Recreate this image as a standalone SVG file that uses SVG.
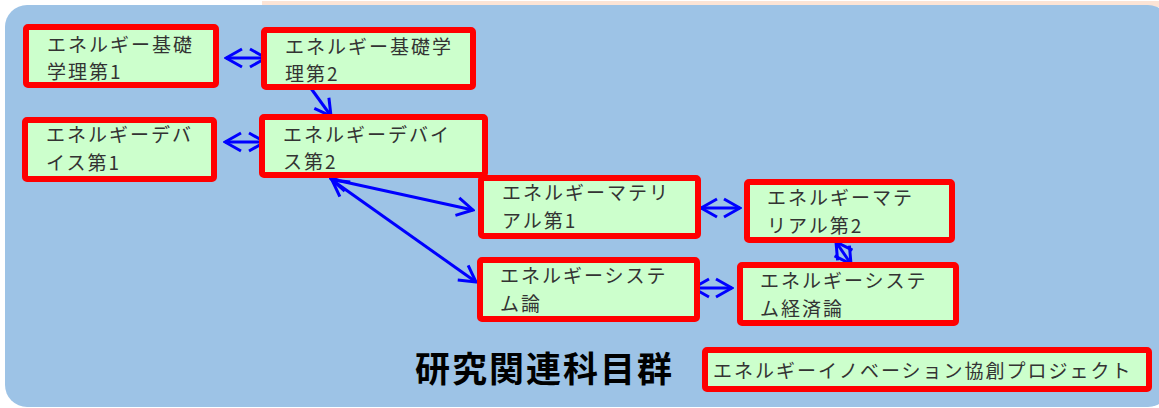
<svg xmlns="http://www.w3.org/2000/svg" width="1159" height="408" viewBox="0 0 1159 408">
<defs>
<style>
.bx rect{fill:#CCFFCC;stroke:#FF0000;stroke-width:6}
.bx text{font-family:"Noto Sans CJK JP","Noto Sans",sans-serif;font-size:19px;letter-spacing:2px;fill:#333333}
.cn line{stroke:#0000FF;stroke-width:3;fill:none}
.title{font-family:"Noto Sans CJK JP","Noto Sans",sans-serif;font-size:35px;font-weight:bold;letter-spacing:2px;fill:#000000}
</style>
<marker id="ah" viewBox="-18 -11 20 22" refX="0" refY="0" markerUnits="userSpaceOnUse" markerWidth="20" markerHeight="22" orient="auto-start-reverse">
<path d="M-16,-9 L0,0 L-16,9" fill="none" stroke="#0000FF" stroke-width="3"/>
</marker>
</defs>
<rect x="0" y="0" width="1159" height="408" fill="#FFFFFF"/>
<rect x="262" y="1" width="897" height="6" fill="#FCE4D6"/>
<rect x="5" y="5" width="1165" height="402" rx="22" ry="22" fill="#9DC3E6"/>

<g id="connectors" class="cn">
<line x1="226" y1="58" x2="266" y2="58" marker-start="url(#ah)" marker-end="url(#ah)"/>
<line x1="310" y1="87" x2="331" y2="116" marker-end="url(#ah)"/>
<line x1="225" y1="142" x2="265" y2="142" marker-start="url(#ah)" marker-end="url(#ah)"/>
<line x1="331" y1="179" x2="473" y2="210" marker-start="url(#ah)" marker-end="url(#ah)"/>
<line x1="332" y1="180" x2="476" y2="282" marker-start="url(#ah)" marker-end="url(#ah)"/>
<line x1="701" y1="208" x2="740" y2="208" marker-start="url(#ah)" marker-end="url(#ah)"/>
<line x1="836" y1="242" x2="851" y2="264" marker-start="url(#ah)" marker-end="url(#ah)"/>
<line x1="693" y1="288" x2="732" y2="288" marker-start="url(#ah)" marker-end="url(#ah)"/>
</g>

<g id="n1" class="bx"><rect x="26" y="27" width="190" height="58" rx="2"/><text x="47" y="52">エネルギー基礎</text><text x="47" y="79">学理第1</text></g>
<g id="n2" class="bx"><rect x="264" y="30" width="209" height="57" rx="2"/><text x="285" y="54">エネルギー基礎学</text><text x="285" y="81">理第2</text></g>
<g id="n3" class="bx"><rect x="25" y="120" width="189" height="59" rx="2"/><text x="46" y="142">エネルギーデバ</text><text x="46" y="170">イス第1</text></g>
<g id="n4" class="bx"><rect x="262" y="117" width="223" height="58" rx="2"/><text x="283" y="142">エネルギーデバイ</text><text x="283" y="169">ス第2</text></g>
<g id="n5" class="bx"><rect x="481" y="178" width="217" height="58" rx="2"/><text x="502" y="200">エネルギーマテリ</text><text x="502" y="228">アル第1</text></g>
<g id="n6" class="bx"><rect x="747" y="182" width="205" height="58" rx="2"/><text x="767" y="205">エネルギーマテ</text><text x="767" y="233">リアル第2</text></g>
<g id="n7" class="bx"><rect x="480" y="260" width="217" height="59" rx="2"/><text x="500" y="283">エネルギーシステ</text><text x="500" y="311">ム論</text></g>
<g id="n8" class="bx"><rect x="740" y="265" width="216" height="58" rx="2"/><text x="760" y="288">エネルギーシステ</text><text x="760" y="316">ム経済論</text></g>
<g id="n9" class="bx"><rect x="705" y="350" width="444" height="39" rx="2"/><text x="713" y="378">エネルギーイノベーション協創プロジェクト</text></g>

<text class="title" x="415" y="382">研究関連科目群</text>
</svg>
